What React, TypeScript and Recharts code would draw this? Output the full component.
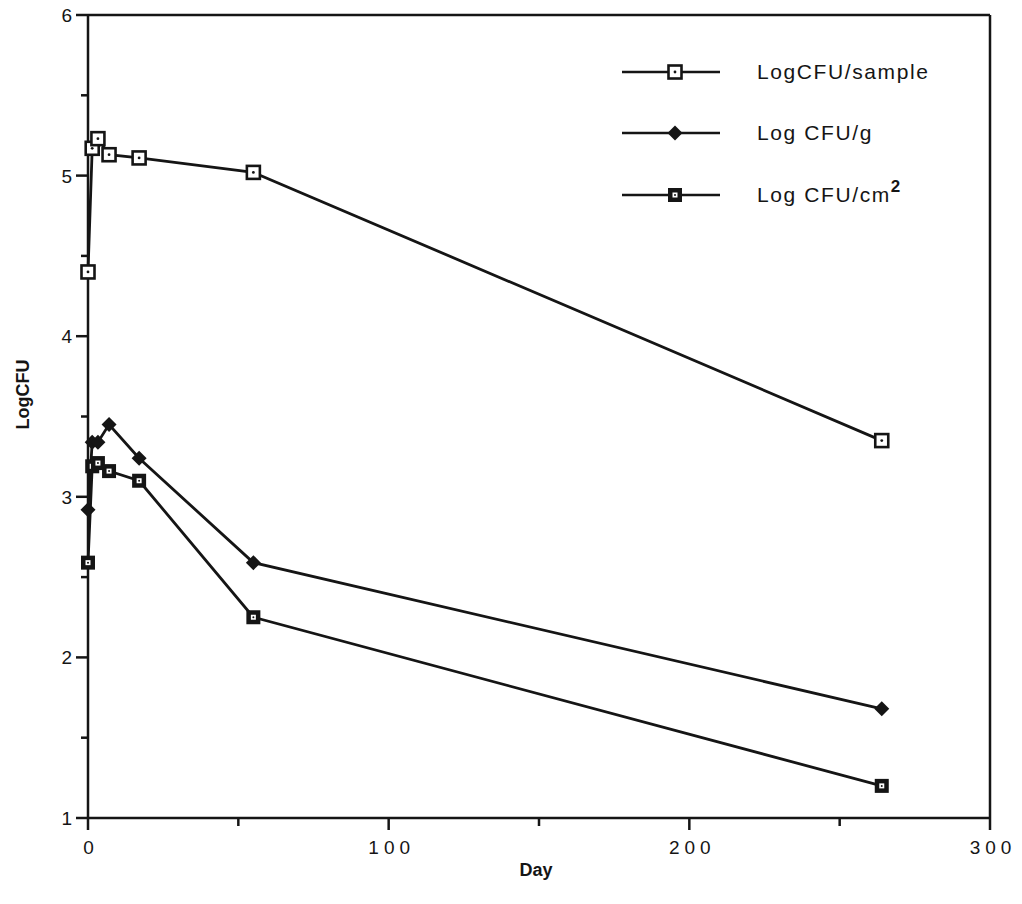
import React from "react";
import { LineChart, Line, XAxis, YAxis, ReferenceLine } from "recharts";

// sampling days and log counts for each series
const days = [0, 1.4, 3.3, 7, 17, 55, 264];
const perSample = [4.4, 5.17, 5.23, 5.13, 5.11, 5.02, 3.35];
const perGram = [2.92, 3.34, 3.34, 3.45, 3.24, 2.59, 1.68];
const perCm2 = [2.59, 3.19, 3.21, 3.16, 3.1, 2.25, 1.2];

const xTicks = [0, 50, 100, 150, 200, 250, 300];
const yTicks = [1, 1.5, 2, 2.5, 3, 3.5, 4, 4.5, 5, 5.5, 6];

const INK = "#151515";
const FONT = "'Liberation Sans', Arial, Helvetica, sans-serif";

const toPoints = (vals: number[]) => days.map((d, i) => ({ day: d, v: vals[i] }));

type DotProps = { cx?: number; cy?: number; index?: number };

const OpenSquare = ({ cx = 0, cy = 0 }: DotProps) => (
  <g>
    <rect x={cx - 6.5} y={cy - 6.5} width={13} height={13} fill="#fff" stroke={INK} strokeWidth={2.6} />
    <circle cx={cx} cy={cy} r={1.4} fill={INK} />
  </g>
);

const Diamond = ({ cx = 0, cy = 0 }: DotProps) => (
  <polygon points={`${cx},${cy - 7.5} ${cx + 7.5},${cy} ${cx},${cy + 7.5} ${cx - 7.5},${cy}`} fill={INK} />
);

const SolidSquare = ({ cx = 0, cy = 0 }: DotProps) => (
  <g>
    <rect x={cx - 7} y={cy - 7} width={14} height={14} fill={INK} />
    <rect x={cx - 2.5} y={cy - 2.5} width={5} height={5} fill="#fff" />
    <circle cx={cx} cy={cy} r={1} fill={INK} />
  </g>
);

const series = [
  { key: "sample", name: "LogCFU/sample", vals: perSample, Marker: OpenSquare },
  { key: "gram", name: "Log CFU/g", vals: perGram, Marker: Diamond },
  { key: "cm2", name: "Log CFU/cm", sup: "2", vals: perCm2, Marker: SolidSquare },
];

const XTick = (props: any) => {
  const { x, y, payload } = props;
  const major = payload.value % 100 === 0;
  return (
    <g>
      <line x1={x} x2={x} y1={y} y2={y + (major ? 12 : 8)} stroke={INK} strokeWidth={2.5} />
      {major && (
        <text x={x + 3} y={y + 36} textAnchor="middle" fontSize={19} letterSpacing={5} fill={INK} fontFamily={FONT}>
          {payload.value}
        </text>
      )}
    </g>
  );
};

const YTick = (props: any) => {
  const { x, y, payload } = props;
  const major = Number.isInteger(payload.value);
  return (
    <g>
      <line x1={x - (major ? 12 : 7)} x2={x} y1={y} y2={y} stroke={INK} strokeWidth={2.5} />
      {major && (
        <text x={x - 16} y={y + 7} textAnchor="end" fontSize={19} fill={INK} fontFamily={FONT}>
          {payload.value}
        </text>
      )}
    </g>
  );
};

const Legend = () => (
  <div style={{ position: "absolute", left: 622, top: 41, fontFamily: FONT, color: INK }}>
    {series.map(({ key, name, sup, Marker }) => (
      <div key={key} style={{ display: "flex", alignItems: "center", height: 61.5 }}>
        <svg width={100} height={30} style={{ display: "block" }}>
          <line x1={0} x2={98} y1={15} y2={15} stroke={INK} strokeWidth={2.6} />
          <Marker cx={53} cy={15} />
        </svg>
        <span style={{ marginLeft: 35, fontSize: 21, letterSpacing: 1.6, lineHeight: "30px" }}>
          {name}
          {sup && <sup style={{ fontSize: 17, fontWeight: "bold", verticalAlign: "10px", lineHeight: 0 }}>{sup}</sup>}
        </span>
      </div>
    ))}
  </div>
);

export default function App() {
  return (
    <div style={{ position: "absolute", left: 0, top: 0, width: 1022, height: 904, background: "#fff" }}>
      <LineChart width={1022} height={904} margin={{ top: 15, right: 32, bottom: 26, left: 0 }}>
        <XAxis
          dataKey="day"
          type="number"
          domain={[0, 300]}
          ticks={xTicks}
          interval={0}
          allowDuplicatedCategory={false}
          height={60}
          tickSize={0}
          tickMargin={0}
          tickLine={false}
          axisLine={{ stroke: INK, strokeWidth: 2.5 }}
          tick={<XTick />}
          label={{
            content: ({ viewBox }: any) => (
              <text
                x={viewBox.x + viewBox.width / 2 - 3}
                y={viewBox.y + 58}
                textAnchor="middle"
                fontSize={18}
                fontWeight="bold"
                fill={INK}
                fontFamily={FONT}
              >
                Day
              </text>
            ),
          }}
        />
        <YAxis
          type="number"
          domain={[1, 6]}
          ticks={yTicks}
          interval={0}
          width={88}
          tickSize={0}
          tickMargin={0}
          tickLine={false}
          axisLine={{ stroke: INK, strokeWidth: 2.5 }}
          tick={<YTick />}
          label={{
            content: ({ viewBox }: any) => {
              const cx = viewBox.x + 23;
              const cy = viewBox.y + viewBox.height / 2 - 22;
              return (
                <text
                  x={cx}
                  y={cy}
                  transform={`rotate(-90 ${cx} ${cy})`}
                  textAnchor="middle"
                  dominantBaseline="central"
                  fontSize={18}
                  fontWeight="bold"
                  fill={INK}
                  fontFamily={FONT}
                >
                  LogCFU
                </text>
              );
            },
          }}
        />
        {/* closing frame on top and right */}
        <ReferenceLine y={6} stroke={INK} strokeWidth={2.5} />
        <ReferenceLine x={300} stroke={INK} strokeWidth={2.5} />
        {series.map(({ key, name, vals, Marker }) => (
          <Line
            key={key}
            name={name}
            data={toPoints(vals)}
            dataKey="v"
            type="linear"
            stroke={INK}
            strokeWidth={2.8}
            isAnimationActive={false}
            dot={(p: any) => <Marker key={`${key}-${p.index}`} cx={p.cx} cy={p.cy} />}
            activeDot={false}
          />
        ))}
      </LineChart>
      <Legend />
    </div>
  );
}
